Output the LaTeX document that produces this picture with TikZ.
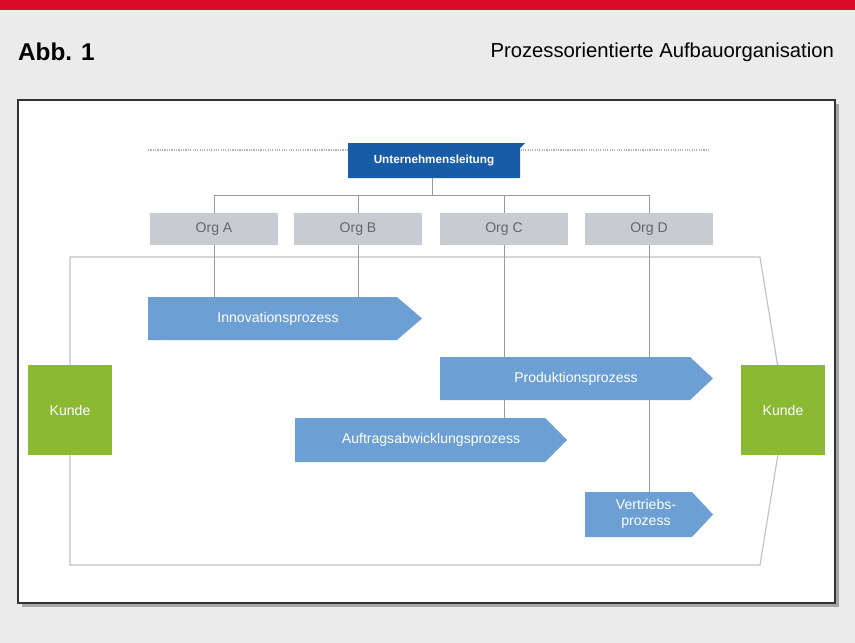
\documentclass[tikz,border=0pt]{standalone}
\usepackage{fontspec}
\setmainfont{Liberation Sans}
\usetikzlibrary{positioning}
\definecolor{bgrey}{RGB}{235,235,236}
\definecolor{abbred}{RGB}{218,10,40}
\definecolor{leitblue}{RGB}{24,92,168}
\definecolor{procblue}{RGB}{108,160,212}
\definecolor{orggrey}{RGB}{200,204,210}
\definecolor{kundegreen}{RGB}{140,185,50}
\definecolor{linegrey}{RGB}{150,155,160}
\begin{document}
\begin{tikzpicture}[x=0.03cm,y=-0.03cm]

\tikzstyle{org}=[fill=orggrey,minimum width=3.84cm,minimum height=0.96cm,text=black!60,font=\large]
\tikzstyle{kunde}=[fill=kundegreen,minimum width=2.52cm,minimum height=2.7cm,text=white,font=\large]
\tikzstyle{proc}=[fill=procblue,draw=none]
\tikzstyle{tree}=[linegrey,thin]

% Hintergrund
\fill[bgrey] (0,0) rectangle (855,643);
\useasboundingbox (0,0) rectangle (855,643);
\fill[abbred] (0,0) rectangle (855,10);
\node (abb) [anchor=west,font=\bfseries\huge] at (14,52) {Abb. 1};
\node (title) [anchor=east,font=\LARGE] at (838,52) {Prozessorientierte Aufbauorganisation};

% Rahmen
\fill[black!35] (22,104) rectangle (839,607);
\draw[fill=white,draw=black!80,line width=1.2pt] (18,100) rectangle (835,603);

% Leitung
\draw[black!30,densely dotted,line width=1pt] (148,150) -- (710,150);
\fill[leitblue] (348,143) -- (525,143) -- (520,148) -- (520,178) -- (348,178) -- cycle;
\node (leitung) [text=white,font=\bfseries] at (434,160) {Unternehmensleitung};

% Organisationen
\node (orgA) [org] at (214,229) {Org A};
\node (orgB) [org] at (358,229) {Org B};
\node (orgC) [org] at (504,229) {Org C};
\node (orgD) [org] at (649,229) {Org D};

\draw[tree] (432,178) -- (432,195);
\draw[tree] (214,213) |- (649,195) -- (649,213);
\draw[tree] (358,195) -- (358,213);
\draw[tree] (504,195) -- (504,213);

% Prozessrahmen
\draw[linegrey!60,line width=1pt] (70,257) -- (760,257) -- (785,411) -- (760,565) -- (70,565) -- cycle;

\draw[tree] (214,245) -- (214,297);
\draw[tree] (358,245) -- (358,297);
\draw[tree] (504,245) -- (504,418);
\draw[tree] (649,245) -- (649,492);

% Prozesse
\fill[proc] (148,297) -- (397,297) -- (422,318.5) -- (397,340) -- (148,340) -- cycle;
\node (innov) [text=white,font=\large] at (278,319) {Innovationsprozess};
\fill[proc] (440,357) -- (690,357) -- (713,378.5) -- (690,400) -- (440,400) -- cycle;
\node (prod) [text=white,font=\large] at (576,379) {Produktionsprozess};
\fill[proc] (295,418) -- (545,418) -- (567,440) -- (545,462) -- (295,462) -- cycle;
\node (auftrag) [text=white,font=\large] at (431,440) {Auftragsabwicklungsprozess};
\fill[proc] (585,492) -- (692,492) -- (713,514.5) -- (692,537) -- (585,537) -- cycle;
\node (vertrieb) [text=white,font=\large,align=center,inner sep=0pt] at (646,514) {Vertriebs-\\prozess};

% Kunden
\node (kundeL) [kunde] at (70,410) {Kunde};
\node (kundeR) [kunde] at (783,410) {Kunde};

\end{tikzpicture}
\end{document}
